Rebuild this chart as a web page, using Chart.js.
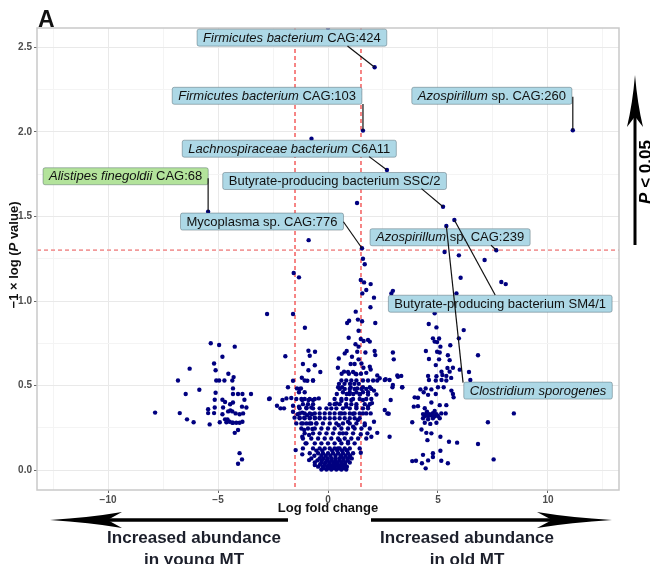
<!DOCTYPE html>
<html>
<head>
<meta charset="utf-8">
<script src="https://cdn.jsdelivr.net/npm/chart.js@4.4.1/dist/chart.umd.min.js"></script>
<style>
  html, body { margin: 0; padding: 0; background: #fff; }
  #wrap { width: 650px; height: 564px; }
</style>
</head>
<body>
<div id="wrap"><canvas id="volcano" width="650" height="564"></canvas></div>
<script>
// axis ticks
const xMajorTicks = [-10, -5, 0, 5, 10];
const xTickLabels = ["\u221210", "\u22125", "0", "5", "10"];
const xMinorTicks = [-12.5, -7.5, -2.5, 2.5, 7.5, 12.5];
const yMajorTicks = [0, 0.5, 1, 1.5, 2, 2.5];
const yTickLabels = ["0.0", "0.5", "1.0", "1.5", "2.0", "2.5"];
const yMinorTicks = [0.25, 0.75, 1.25, 1.75, 2.25];

// significance cut-offs
const foldCutoffs = [-1.5, 1.5];
const pCutoff = 1.301;

// [log fold change, -log P]
const youngSide = [
  [-7.86,0.34],[-5.33,0.75],[-4.95,0.74],[-4.24,0.73],[-4.80,0.67],[-5.18,0.63],[-6.29,0.60],[-5.11,0.59],
  [-4.53,0.57],[-4.29,0.55],[-4.35,0.53],[-6.82,0.53],[-5.08,0.53],[-4.95,0.53],[-4.71,0.53],[-5.85,0.475],
  [-6.47,0.45],[-5.11,0.457],[-4.32,0.483],[-4.32,0.45],[-4.09,0.45],[-3.89,0.45],[-3.5,0.45],[-2.68,0.42],
  [-4.80,0.416],[-4.68,0.403],[-3.80,0.416],[-5.15,0.416],[-4.32,0.40],[-4.45,0.389],[-3.91,0.375],[-3.71,0.37],
  [-4.77,0.37],[-5.45,0.36],[-5.15,0.37],[-4.44,0.353],[-4.54,0.347],[-4.35,0.347],[-4.20,0.335],[-4.02,0.33],
  [-3.86,0.335],[-6.74,0.337],[-5.45,0.337],[-5.18,0.337],[-4.80,0.33],[-4.68,0.30],[-4.57,0.30],[-4.47,0.286],
  [-4.35,0.28],[-4.17,0.28],[-4.02,0.28],[-3.89,0.286],[-6.41,0.30],[-6.11,0.283],[-5.38,0.27],[-4.92,0.283],
  [-4.62,0.283],[-4.32,0.28],[-4.09,0.237],[-4.24,0.22],[-4.02,0.10],[-3.91,0.063],[-4.09,0.037]
];

const centreScatter = [
  [0.0,2.615],[-0.75,1.96],[1.32,1.58],[-0.88,1.36],[-1.56,1.166],[-1.32,1.14],[-2.77,0.923],[-1.59,0.923],
  [-1.05,0.842],[-0.89,0.706],[-0.59,0.70],[-0.83,0.676],[-1.94,0.673],[-1.14,0.627],[-0.6,0.62],[-0.89,0.59],
  [-0.35,0.58],[-1.19,0.546],[-0.94,0.528],[-0.68,0.53],[-1.59,0.528],[0.45,0.605],
  [1.59,1.25],[1.67,1.217],[1.49,1.124],[1.64,1.11],[1.94,1.10],[1.74,1.065],[1.56,1.045],[2.09,1.02],
  [2.95,1.06],[2.88,1.045],[1.93,0.963],[1.26,0.937],[0.96,0.883],[0.87,0.87],[1.36,0.89],[1.55,0.88],
  [2.15,0.87],[1.39,0.824],[0.94,0.783],[1.49,0.775],[1.62,0.763],[1.82,0.77],[1.9,0.76],[1.25,0.744],
  [1.39,0.73],[0.85,0.704],[0.76,0.69],[1.33,0.70],[1.7,0.695],[2.12,0.704],[2.15,0.68],[2.95,0.695],
  [2.99,0.655],[1.39,0.655],[0.49,0.66],[1.09,0.67],[1.03,0.627],[1.21,0.627],[1.52,0.63],[1.9,0.611],
  [1.61,0.605],[0.73,0.582],[0.91,0.58],[1.14,0.58],[1.29,0.567],[1.74,0.575],[1.94,0.595],[2.24,0.56],
  [2.58,0.533],[2.8,0.533],[2.24,0.53],[3.15,0.56],[2.95,0.503],[3.37,0.49],[0.46,0.49],[0.64,0.49],
  [1.03,0.49],[1.33,0.483],[1.59,0.49],[1.9,0.49],[2.09,0.47],[0.98,0.45],[1.44,0.447],[1.82,0.447],
  [2.2,0.447],[2.85,0.414],[0.61,0.41],[1.06,0.414],[1.59,0.414],[2.0,0.396],[0.38,0.394],[0.83,0.375],
  [1.29,0.375],[1.82,0.375],[2.58,0.355],[2.7,0.335],[2.76,0.333],[0.61,0.335],[1.14,0.333],[1.59,0.335],
  [1.94,0.335],[0.91,0.286],[1.36,0.296],[2.09,0.286],[0.49,0.265],[1.14,0.256],[1.67,0.265],[0.68,0.217],
  [1.49,0.212],[1.79,0.217],[1.97,0.197],[2.24,0.22],[2.8,0.197],[0.53,0.177],[0.91,0.168],[0.45,0.128],
  [0.83,0.118],[1.49,0.102],[0.61,0.079],[0.98,0.075],[0.38,0.04],[0.76,0.03],[0.53,0.01],
  [2.35,0.543],[2.62,0.537],[3.18,0.552],[2.93,0.49],
  [-1.82,0.49],[-1.41,0.483],[-1.23,0.483],[-1.32,0.46],[-2.65,0.424],[-2.07,0.414],[-1.89,0.424],[-1.67,0.426],
  [-1.44,0.42],[-1.17,0.414],[-0.89,0.414],[-0.68,0.414],[-0.42,0.424],[-2.32,0.38],[-2.16,0.365],[-2.0,0.365],
  [-1.59,0.38],[-1.32,0.375],[-0.98,0.37],[-0.76,0.37],[-1.59,0.345],[-1.38,0.33],[-1.17,0.34],[-0.95,0.325],
  [-0.73,0.33],[-1.52,0.31],[-1.29,0.31],[-1.08,0.31],[-0.83,0.31],[-0.6,0.31],[-0.38,0.31],[-1.44,0.276],
  [-1.21,0.276],[-0.98,0.276],[-0.76,0.276],[-0.53,0.276],[-1.08,0.237],[-0.71,0.243],[-1.17,0.197],[-0.86,0.207],
  [-1.02,0.158],[-1.47,0.118],[-1.17,0.093],[-0.86,0.059],[-0.6,0.03]
];

// dense middle of the cloud, row by row: [-log P, [log fold changes]]
const coreRows = [
  [0.57, [0.62, 0.95, 1.25, 1.50]],
  [0.53, [-1.06, -0.68, 0.61, 0.83, 1.06, 1.29, 1.59, 1.82, 2.05]],
  [0.51, [0.50, 0.75, 1.00, 1.20, 1.40]],
  [0.48, [-1.29, 0.53, 0.76, 0.99, 1.21, 1.52, 1.74, 1.97]],
  [0.46, [-1.06, 0.68, 0.99, 1.29, 1.59, 1.82]],
  [0.45, [0.40, 0.85, 1.15, 1.45]],
  [0.42, [-1.21, -1.06, -0.83, -0.60, 0.30, 0.61, 0.83, 1.14, 1.44, 1.74, 1.97]],
  [0.39, [-1.14, -0.91, -0.68, 0.08, 0.30, 0.53, 0.83, 1.06, 1.29, 1.67, 1.90]],
  [0.365, [-1.29, -0.98, -0.68, -0.38, -0.07, 0.15, 0.38, 0.68, 0.99, 1.29, 1.59, 1.82]],
  [0.335, [-1.29, -1.06, -0.83, -0.60, -0.38, -0.15, 0.08, 0.30, 0.53, 0.76, 0.99, 1.21, 1.44, 1.74]],
  [0.306, [-1.29, -1.06, -0.83, -0.60, -0.38, -0.15, 0.08, 0.30, 0.53, 0.76, 0.99, 1.21, 1.44]],
  [0.276, [-1.14, -0.83, -0.53, -0.23, 0.08, 0.38, 0.68, 0.99, 1.29, 1.67]],
  [0.246, [-1.21, -0.91, -0.60, -0.30, 0.00, 0.30, 0.61, 0.91, 1.21, 1.52, 1.90]],
  [0.217, [-1.06, -0.68, -0.38, -0.07, 0.23, 0.53, 0.83, 1.14]],
  [0.187, [-1.14, -0.76, -0.45, -0.15, 0.15, 0.46, 0.76, 1.06, 1.37, 1.74]],
  [0.158, [-0.98, -0.60, -0.30, 0.00, 0.30, 0.61, 0.91, 1.21]],
  [0.128, [-1.14, -0.68, -0.38, -0.15, 0.08, 0.30, 0.53, 0.76, 0.99, 1.44]],
  [0.115, [-0.53, -0.26, 0.19, 0.42, 0.64, 0.87]],
  [0.099, [-0.83, -0.45, -0.23, 0.00, 0.23, 0.46, 0.68, 0.91, 1.14]],
  [0.085, [-0.62, -0.30, -0.10, 0.11, 0.34, 0.57, 0.80, 1.00]],
  [0.069, [-0.76, -0.38, -0.20, -0.01, 0.17, 0.35, 0.53, 0.71, 0.89, 1.08]],
  [0.057, [-0.48, -0.28, -0.05, 0.15, 0.33, 0.52, 0.70, 0.90]],
  [0.045, [-0.60, -0.30, -0.12, 0.06, 0.24, 0.43, 0.61, 0.79, 0.99]],
  [0.033, [-0.36, -0.15, 0.05, 0.23, 0.41, 0.59, 0.77]],
  [0.020, [-0.45, -0.23, -0.04, 0.14, 0.32, 0.50, 0.68, 0.86]],
  [0.010, [-0.20, 0.02, 0.26, 0.48, 0.72]],
  [0.003, [-0.30, -0.07, 0.15, 0.38, 0.61, 0.83]]
];

const oldSide = [
  [5.3,1.29],[5.95,1.27],[7.12,1.243],[6.03,1.138],[7.88,1.112],[8.08,1.10],[5.84,1.045],[4.85,0.927],
  [4.58,0.864],[4.93,0.844],[6.17,0.828],[5.95,0.779],[4.77,0.779],[4.85,0.76],[5.05,0.778],[4.96,0.757],
  [5.56,0.738],[5.11,0.73],[4.45,0.704],[4.96,0.70],[5.08,0.695],[6.82,0.679],[5.45,0.679],[4.59,0.657],
  [5.05,0.655],[5.53,0.65],[4.9,0.621],[5.43,0.604],[5.68,0.605],[5.99,0.594],[5.16,0.582],[5.53,0.582],
  [5.2,0.562],[6.41,0.58],[4.55,0.557],[6.47,0.533],[4.93,0.555],[5.38,0.557],[5.6,0.545],[4.59,0.533],
  [4.9,0.53],[5.16,0.533],[5.38,0.53],[3.33,0.557],[3.38,0.49],[4.2,0.477],[4.44,0.483],[4.7,0.477],
  [5.0,0.49],[5.26,0.49],[5.61,0.47],[4.35,0.46],[4.55,0.445],[4.9,0.45],[5.68,0.45],[5.71,0.43],
  [3.94,0.43],[4.09,0.428],[4.7,0.40],[3.9,0.375],[4.09,0.378],[4.4,0.366],[5.08,0.384],[5.38,0.384],
  [4.32,0.331],[4.47,0.335],[4.62,0.331],[4.77,0.337],[4.93,0.331],[5.15,0.335],[5.35,0.335],[8.45,0.335],
  [4.4,0.32],[4.55,0.318],[4.7,0.322],[4.85,0.318],[5.0,0.32],[4.5,0.345],[4.85,0.35],
  [4.32,0.306],[4.55,0.30],[4.77,0.306],[5.08,0.306],[3.83,0.283],[4.4,0.28],[4.65,0.273],[4.93,0.28],
  [7.27,0.283],[4.25,0.24],[4.47,0.22],[4.7,0.217],[5.11,0.197],[5.5,0.167],[5.87,0.162],[6.82,0.154],
  [4.52,0.177],[5.11,0.114],[4.32,0.09],[4.77,0.10],[3.83,0.053],[4.0,0.055],[4.27,0.04],[4.55,0.057],
  [4.77,0.077],[5.15,0.055],[5.45,0.04],[4.44,0.01],[7.53,0.063]
];

// labelled species (*...* = italic)
const namedSpecies = [
  "*Firmicutes bacterium* CAG:424",
  "*Firmicutes bacterium* CAG:103",
  "*Azospirillum* sp. CAG:260",
  "*Lachnospiraceae bacterium* C6A11",
  "*Alistipes finegoldii* CAG:68",
  "Butyrate-producing bacterium SSC/2",
  "Mycoplasma sp. CAG:776",
  "*Azospirillum* sp. CAG:239",
  "Butyrate-producing bacterium SM4/1",
  "*Clostridium sporogenes*"
];
const namedLogFC = [2.12, 1.59, 11.13, 2.68, -5.45, 5.23, 1.545, 7.65, 5.745, 5.38];
const namedNegLogP = [2.383, 2.008, 2.01, 1.775, 1.528, 1.558, 1.312, 1.30, 1.479, 1.444];

// where the repelled labels sit (data units) and where their leader lines leave the box
const labelCentres = [
  [-1.64, 2.558], [-2.77, 2.214], [7.45, 2.214], [-1.76, 1.901], [-9.20, 1.738],
  [0.30, 1.710], [-3.00, 1.470], [5.55, 1.377], [7.83, 0.984], [9.55, 0.470]
];
const leaderStarts = [
  [0.886, 2.509], [1.59, 2.165], [11.13, 2.209], [1.87, 1.854], [-5.45, 1.726],
  [4.25, 1.665], [0.70, 1.469], [7.41, 1.331], [7.60, 1.036], [6.14, 0.517]
];
const labelFills = ["#add8e6", "#add8e6", "#add8e6", "#add8e6", "#b3e39b",
                    "#add8e6", "#add8e6", "#add8e6", "#add8e6", "#add8e6"];

const corePoints = coreRows.flatMap(([p, fcs]) => fcs.map(fc => ({ x: fc, y: p })));
const toXY = arr => arr.map(([fc, p]) => ({ x: fc, y: p }));
const allPoints = [
  ...toXY(youngSide), ...toXY(centreScatter), ...corePoints, ...toXY(oldSide),
  ...namedLogFC.map((fc, i) => ({ x: fc, y: namedNegLogP[i] }))
];

const FONT = '"Liberation Sans", Arial, Helvetica, sans-serif';

function richParts(text) {
  return text.split("*").map((t, i) => ({ t, italic: i % 2 === 1 })).filter(p => p.t);
}

function drawRich(ctx, parts, x, y, size, weight, align) {
  const fontFor = p => `${p.italic ? "italic " : ""}${weight} ${size}px ${FONT}`;
  let w = 0;
  parts.forEach(p => { ctx.font = fontFor(p); w += ctx.measureText(p.t).width; });
  let cx = align === "center" ? x - w / 2 : x;
  ctx.textAlign = "left";
  parts.forEach(p => {
    ctx.font = fontFor(p);
    ctx.fillText(p.t, cx, y);
    cx += ctx.measureText(p.t).width;
  });
  return w;
}

function arrowHead(ctx, tx, ty, dx, dy, len, half) {
  const px = -dy, py = dx;
  const bx = tx - dx * len, by = ty - dy * len;
  ctx.beginPath();
  ctx.moveTo(tx, ty);
  ctx.quadraticCurveTo(tx - dx * len * 0.55 + px * half * 0.3, ty - dy * len * 0.55 + py * half * 0.3,
                       bx + px * half, by + py * half);
  ctx.lineTo(tx - dx * len * 0.8, ty - dy * len * 0.8);
  ctx.lineTo(bx - px * half, by - py * half);
  ctx.quadraticCurveTo(tx - dx * len * 0.55 - px * half * 0.3, ty - dy * len * 0.55 - py * half * 0.3, tx, ty);
  ctx.closePath();
  ctx.fill();
}

const decor = {
  id: "decor",
  beforeDatasetsDraw(chart) {
    const { ctx, chartArea: a, scales: { x, y } } = chart;
    ctx.save();
    ctx.setLineDash([4, 3]);
    ctx.strokeStyle = "#f03535";
    ctx.lineWidth = 1.2;
    foldCutoffs.forEach(v => {
      const px = x.getPixelForValue(v);
      ctx.beginPath(); ctx.moveTo(px, a.top); ctx.lineTo(px, a.bottom); ctx.stroke();
    });
    ctx.strokeStyle = "#f29a9a";
    ctx.lineWidth = 1.8;
    const py = y.getPixelForValue(pCutoff);
    ctx.beginPath(); ctx.moveTo(a.left, py); ctx.lineTo(a.right, py); ctx.stroke();
    ctx.restore();
  },
  afterDatasetsDraw(chart) {
    const { ctx, chartArea: a, scales: { x, y } } = chart;
    ctx.save();
    ctx.strokeStyle = "#c9c9c9";
    ctx.lineWidth = 1.5;
    ctx.strokeRect(a.left, a.top, a.right - a.left, a.bottom - a.top);

    // label boxes
    ctx.textBaseline = "middle";
    namedSpecies.forEach((name, i) => {
      const parts = richParts(name);
      let w = 0;
      parts.forEach(p => { ctx.font = `${p.italic ? "italic " : ""}13px ${FONT}`; w += ctx.measureText(p.t).width; });
      const bw = w + 12, bh = 17;
      const cx = x.getPixelForValue(labelCentres[i][0]);
      const cy = y.getPixelForValue(labelCentres[i][1]);
      ctx.fillStyle = labelFills[i];
      ctx.strokeStyle = "rgba(60,80,90,0.4)";
      ctx.lineWidth = 1;
      ctx.beginPath();
      ctx.roundRect(cx - bw / 2, cy - bh / 2, bw, bh, 2);
      ctx.fill(); ctx.stroke();
      ctx.fillStyle = "#111";
      drawRich(ctx, parts, cx, cy + 0.5, 13, "normal", "center");
    });
    // leader lines
    ctx.strokeStyle = "#111";
    ctx.lineWidth = 1.2;
    namedSpecies.forEach((_, i) => {
      ctx.beginPath();
      ctx.moveTo(x.getPixelForValue(leaderStarts[i][0]), y.getPixelForValue(leaderStarts[i][1]));
      ctx.lineTo(x.getPixelForValue(namedLogFC[i]), y.getPixelForValue(namedNegLogP[i]));
      ctx.stroke();
    });
    ctx.restore();
  },
  afterDraw(chart) {
    const { ctx, chartArea: a } = chart;
    const midX = (a.left + a.right) / 2, midY = (a.top + a.bottom) / 2;
    ctx.save();
    ctx.textBaseline = "alphabetic";
    ctx.fillStyle = "#111";
    ctx.textAlign = "left";
    ctx.font = `bold 23px ${FONT}`;
    ctx.fillText("A", 38, 27);

    ctx.font = `bold 13px ${FONT}`;
    ctx.textAlign = "center";
    ctx.fillText("Log fold change", midX, 512);

    ctx.save();
    ctx.translate(18, midY - 4);
    ctx.rotate(-Math.PI / 2);
    drawRich(ctx, [{ t: "\u22121 \u00d7 log (" }, { t: "P", italic: true }, { t: " value)" }], 0, 0, 13, "bold", "center");
    ctx.restore();

    // abundance arrows
    ctx.fillStyle = "#000";
    ctx.strokeStyle = "#000";
    ctx.lineWidth = 3.5;
    ctx.beginPath(); ctx.moveTo(288, 520); ctx.lineTo(100, 520); ctx.stroke();
    arrowHead(ctx, 50, 520, -1, 0, 72, 8);
    ctx.beginPath(); ctx.moveTo(371, 520); ctx.lineTo(560, 520); ctx.stroke();
    arrowHead(ctx, 612, 520, 1, 0, 75, 8);

    ctx.fillStyle = "#1c1f2b";
    ctx.font = `bold 17px ${FONT}`;
    ctx.textAlign = "center";
    ctx.fillText("Increased abundance", 194, 543);
    ctx.fillText("in young MT", 194, 565);
    ctx.fillText("Increased abundance", 467, 543);
    ctx.fillText("in old MT", 467, 565);

    // significance arrow
    ctx.fillStyle = "#000";
    ctx.lineWidth = 3;
    ctx.beginPath(); ctx.moveTo(635, 245); ctx.lineTo(635, 110); ctx.stroke();
    arrowHead(ctx, 635, 75, 0, -1, 52, 8);
    ctx.save();
    ctx.translate(651, 172);
    ctx.rotate(-Math.PI / 2);
    drawRich(ctx, [{ t: "P", italic: true }, { t: " < 0.05" }], 0, 0, 17, "bold", "center");
    ctx.restore();
    ctx.restore();
  }
};

const isIn = (list, v) => list.some(t => Math.abs(t - v) < 1e-9);

new Chart(document.getElementById("volcano"), {
  type: "scatter",
  data: {
    datasets: [{
      data: allPoints,
      backgroundColor: "#000080",
      borderWidth: 0,
      pointRadius: 2.2,
      pointHoverRadius: 2.2,
      clip: 0
    }]
  },
  options: {
    responsive: false,
    animation: false,
    devicePixelRatio: 1,
    layout: { padding: { top: 28, right: 31, bottom: 0, left: 0 } },
    plugins: { legend: { display: false }, tooltip: { enabled: false } },
    scales: {
      x: {
        type: "linear",
        min: -13.23,
        max: 13.23,
        afterFit: s => { s.height = 74; },
        afterBuildTicks: s => {
          s.ticks = [...xMajorTicks, ...xMinorTicks].sort((p, q) => p - q).map(v => ({ value: v }));
        },
        border: { display: false },
        grid: {
          color: c => (c.tick && isIn(xMajorTicks, c.tick.value)) ? "#e9e9e9" : "#f4f4f4",
          tickColor: c => (c.tick && isIn(xMajorTicks, c.tick.value)) ? "#666" : "rgba(0,0,0,0)",
          tickLength: 3
        },
        ticks: {
          autoSkip: false,
          maxRotation: 0,
          padding: 1,
          color: "#4d4d4d",
          font: { family: FONT, size: 10, weight: "bold" },
          callback: v => { const i = xMajorTicks.findIndex(t => Math.abs(t - v) < 1e-9); return i >= 0 ? xTickLabels[i] : ""; }
        }
      },
      y: {
        type: "linear",
        min: -0.118,
        max: 2.615,
        afterFit: s => { s.width = 37; },
        afterBuildTicks: s => {
          s.ticks = [...yMajorTicks, ...yMinorTicks].sort((p, q) => p - q).map(v => ({ value: v }));
        },
        border: { display: false },
        grid: {
          color: c => (c.tick && isIn(yMajorTicks, c.tick.value)) ? "#e9e9e9" : "#f4f4f4",
          tickColor: c => (c.tick && isIn(yMajorTicks, c.tick.value)) ? "#666" : "rgba(0,0,0,0)",
          tickLength: 3
        },
        ticks: {
          autoSkip: false,
          padding: 2,
          color: "#4d4d4d",
          font: { family: FONT, size: 10, weight: "bold" },
          callback: v => { const i = yMajorTicks.findIndex(t => Math.abs(t - v) < 1e-9); return i >= 0 ? yTickLabels[i] : ""; }
        }
      }
    }
  },
  plugins: [decor]
});
</script>
</body>
</html>
